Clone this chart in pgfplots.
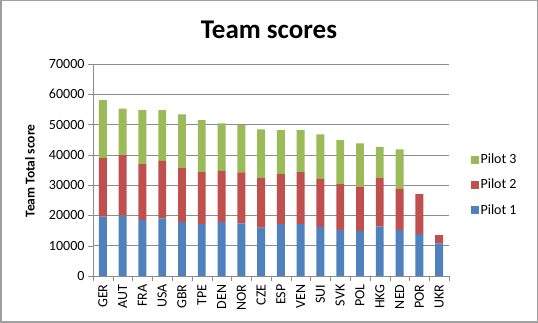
\documentclass[border=0pt]{standalone}
\usepackage{pgfplots}
\pgfplotsset{compat=1.18}
\usepackage{fontspec}
\setmainfont{Carlito}
\definecolor{pone}{HTML}{4F81BD}
\definecolor{ptwo}{HTML}{C0504D}
\definecolor{pthree}{HTML}{9BBB59}
\definecolor{gridc}{HTML}{8C8C8C}
\begin{document}
\begin{tikzpicture}
\useasboundingbox (0pt,0pt) rectangle (538pt,323pt);
\fill[white] (0pt,0pt) rectangle (538pt,323pt);
\draw[gray!75, line width=1.5pt] (0.75pt,0.75pt) rectangle (537.25pt,322.25pt);
\node[font=\fontsize{27}{30}\selectfont\bfseries] at (269pt,293pt) {Team scores};
\node[font=\fontsize{13.5}{15}\selectfont\bfseries, rotate=90] at (30pt,152pt) {Team Total score};
\begin{axis}[
  at={(93pt,47pt)}, anchor=south west,
  scale only axis, width=356pt, height=212pt,
  ybar stacked, bar width=7.9pt,
  xmin=-0.5, xmax=17.5, ymin=0, ymax=70000,
  xtick={0,...,17},
  xticklabels={GER,AUT,FRA,USA,GBR,TPE,DEN,NOR,CZE,ESP,VEN,SUI,SVK,POL,HKG,NED,POR,UKR},
  xticklabel style={rotate=90, anchor=east, font=\fontsize{14}{16}\selectfont},
  major x tick style={draw=none},
  minor xtick={-0.5,0.5,...,17.5},
  minor x tick style={gridc},
  ytick={0,10000,...,70000},
  yticklabel style={font=\fontsize{14}{16}\selectfont},
  /pgf/number format/assume math mode=true,
  scaled y ticks=false,
  yticklabel={\pgfmathprintnumber[fixed,1000 sep={}]{\tick}},
  tick align=outside, major tick length=5pt, minor tick length=5pt,
  ymajorgrids, grid style={gridc, line width=0.6pt},
  axis x line*=bottom, axis y line*=left,
  axis line style={gridc, line width=0.8pt},
  y tick style={gridc},
  every outer x axis line/.append style={-}, every outer y axis line/.append style={-},
  legend style={at={(1.06,0.43)}, anchor=west, draw=none, fill=none,
    font=\fontsize{14}{16}\selectfont, row sep=10pt, inner sep=0pt},
  legend cell align=left,
  reverse legend,
  legend image code/.code={\fill[#1] (0pt,-4pt) rectangle (8pt,4pt);},
]
\addplot[fill=pone, draw=none] coordinates {
(0,19600) (1,19900) (2,18500) (3,19000) (4,17800) (5,17200) (6,17900) (7,17400) (8,16000)
(9,17200) (10,17200) (11,16100) (12,15200) (13,14900) (14,16300) (15,15200) (16,13800) (17,10800)};
\addlegendentry{Pilot 1}
\addplot[fill=ptwo, draw=none] coordinates {
(0,19300) (1,20000) (2,18400) (3,19000) (4,18000) (5,17100) (6,16800) (7,16800) (8,16300)
(9,16400) (10,17100) (11,16000) (12,15100) (13,14600) (14,16000) (15,13600) (16,13200) (17,2700)};
\addlegendentry{Pilot 2}
\addplot[fill=pthree, draw=none] coordinates {
(0,19200) (1,15400) (2,17900) (3,16800) (4,17600) (5,17200) (6,15700) (7,15700) (8,16100)
(9,14600) (10,13900) (11,14700) (12,14600) (13,14300) (14,10300) (15,13000) (16,0) (17,0)};
\addlegendentry{Pilot 3}
\end{axis}
\end{tikzpicture}
\end{document}
